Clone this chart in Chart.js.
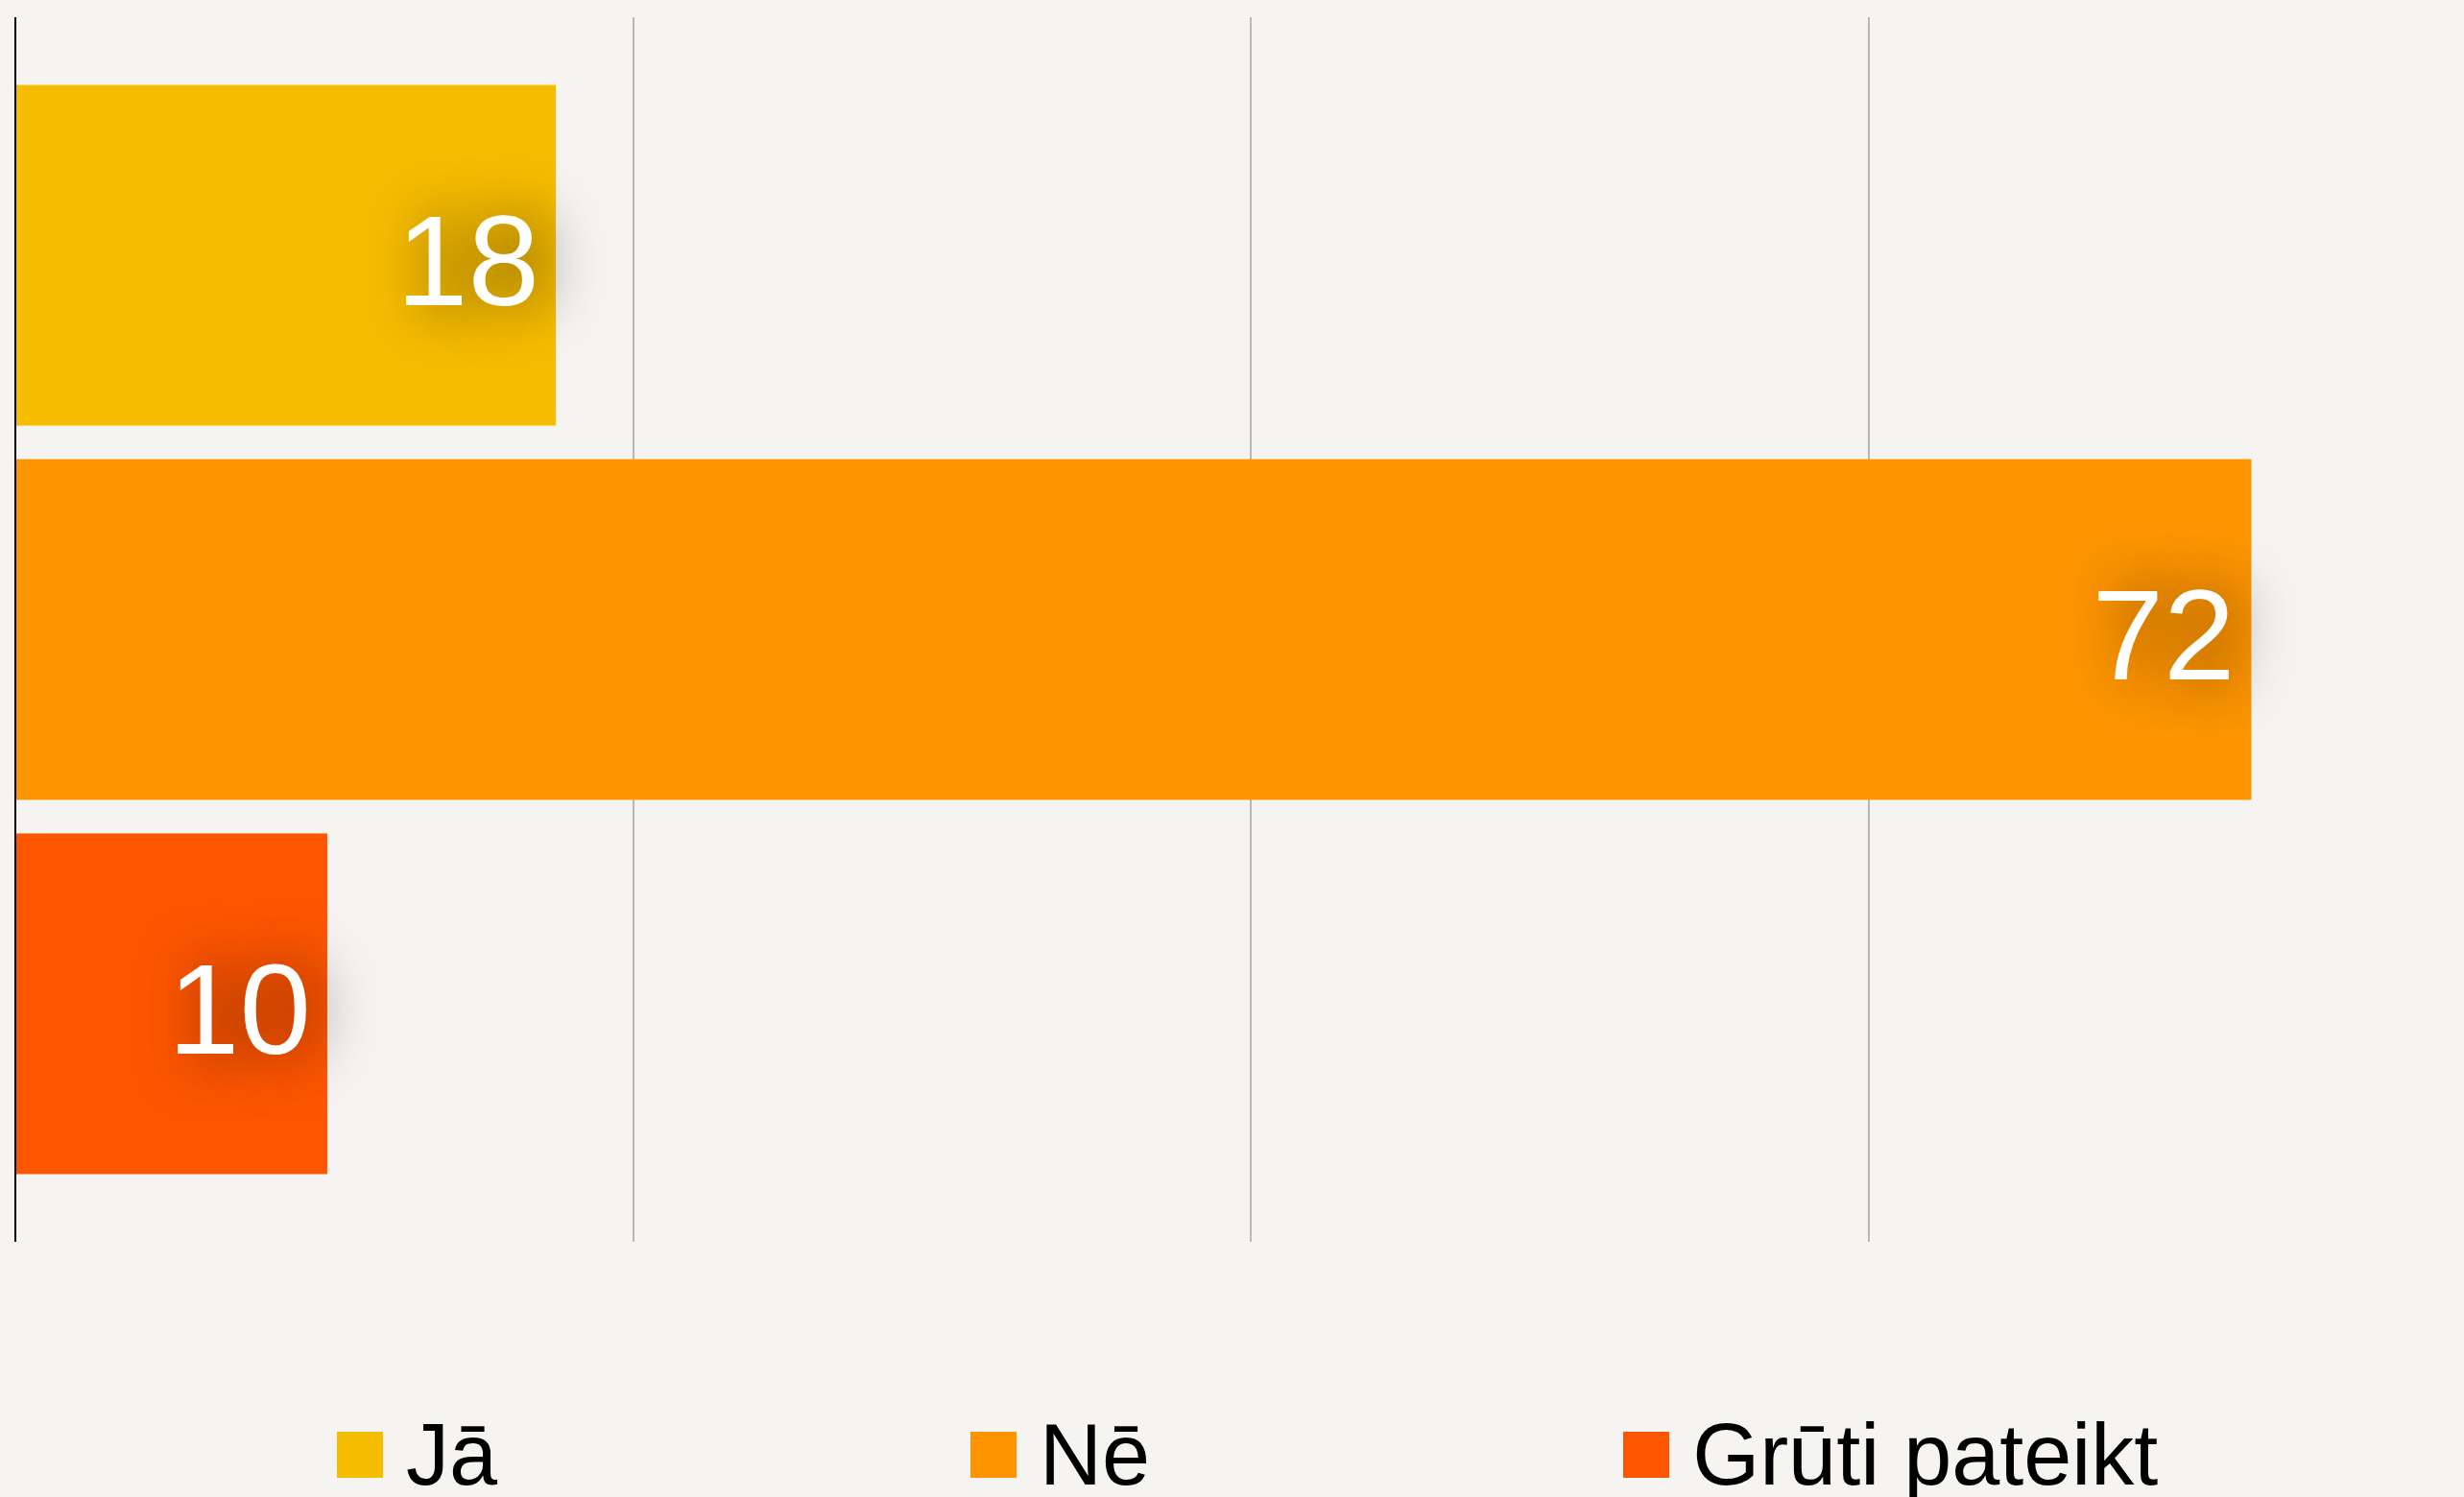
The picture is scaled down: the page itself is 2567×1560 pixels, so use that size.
<!DOCTYPE html>
<html><head><meta charset="utf-8">
<script src="https://cdn.jsdelivr.net/npm/chart.js@4.4.1/dist/chart.umd.min.js"></script>
<style>
html,body{margin:0;padding:0;background:#f5f4f0;width:2567px;height:1560px;overflow:hidden;}
#wrap{position:absolute;left:0;top:0;width:2600px;height:1300px;}
#legend{position:absolute;left:351px;top:1471px;display:flex;gap:493px;font-family:"Liberation Sans",Arial,sans-serif;font-size:90px;line-height:90px;color:#000;white-space:nowrap;}
.item{display:flex;align-items:center;}
.box{width:48px;height:48px;margin-right:24px;flex:none;}
</style></head><body>
<div id="wrap"><canvas id="c" width="2600" height="1300"></canvas></div>
<div id="legend"></div>
<script>
const seriesNames = ['Jā', 'Nē', 'Grūti pateikt'];
const seriesValues = [17.5, 72.4, 10.1];
const valueLabels = ['18', '72', '10'];
const seriesColors = ['#f6bc00', '#fe9500', '#fe5500'];
const categories = [''];
const xTicks = [0, 20, 40, 60, 80];

const legendEl = document.getElementById('legend');
seriesNames.forEach((n, i) => {
  const it = document.createElement('div'); it.className = 'item';
  const b = document.createElement('div'); b.className = 'box'; b.style.background = seriesColors[i];
  const t = document.createElement('span'); t.textContent = n;
  it.appendChild(b); it.appendChild(t); legendEl.appendChild(it);
});

const labelPlugin = {
  id: 'vlabels',
  afterDatasetsDraw(chart) {
    const c = chart.ctx;
    chart.data.datasets.forEach((ds, i) => {
      const meta = chart.getDatasetMeta(i);
      meta.data.forEach((bar) => {
        c.save();
        c.font = '134px "Liberation Sans", Arial, sans-serif';
        c.fillStyle = '#ffffff';
        c.textAlign = 'right';
        c.textBaseline = 'middle';
        c.shadowColor = 'rgba(0,0,0,0.7)';
        c.shadowBlur = 60;
        c.shadowOffsetX = 12;
        c.fillText(valueLabels[i], bar.x - 17, bar.y + 15);
        c.restore();
      });
    });
  }
};

new Chart(document.getElementById('c'), {
  type: 'bar',
  data: {
    labels: categories,
    datasets: seriesNames.map((n, i) => ({
      label: n,
      data: [seriesValues[i]],
      backgroundColor: seriesColors[i],
      borderWidth: 0,
      categoryPercentage: 0.917,
      barPercentage: 0.91
    }))
  },
  options: {
    indexAxis: 'y',
    responsive: false,
    animation: false,
    devicePixelRatio: 1,
    layout: { padding: { left: 16, right: 10, top: 18, bottom: 6 } },
    plugins: { legend: { display: false }, tooltip: { enabled: false } },
    scales: {
      x: {
        min: 0, max: 80,
        afterBuildTicks: s => { s.ticks = xTicks.map(v => ({ value: v })); },
        ticks: { display: false },
        grid: {
          drawTicks: false, tickLength: 0,
          lineWidth: 2,
          color: ctx => (ctx.tick && ctx.tick.value === 0) ? '#000000' : '#b8b8b8'
        },
        border: { display: false }
      },
      y: { display: false }
    }
  },
  plugins: [labelPlugin]
});
</script>
</body></html>
